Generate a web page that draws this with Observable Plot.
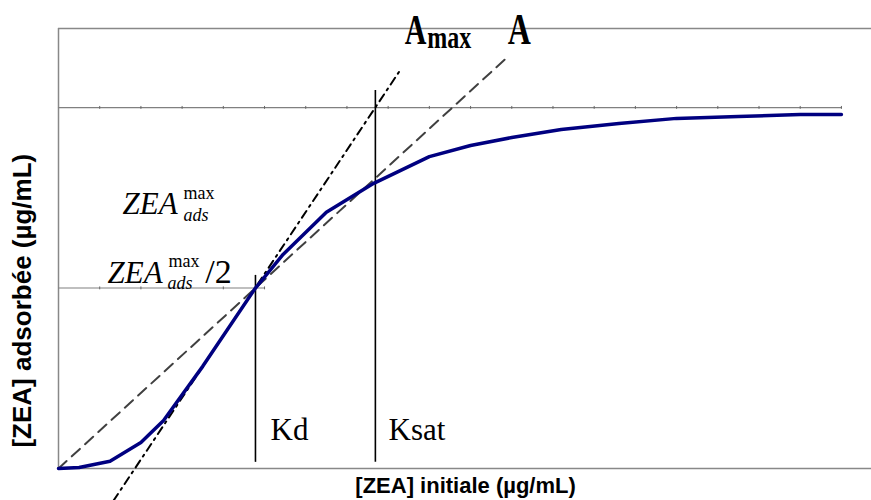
<!DOCTYPE html>
<html>
<head>
<meta charset="utf-8">
<script src="https://cdn.jsdelivr.net/npm/d3@7"></script>
<script src="https://cdn.jsdelivr.net/npm/@observablehq/plot@0.6"></script>
<style>
  html, body { margin: 0; padding: 0; background: #fff; }
  svg { display: block; }
</style>
</head>
<body>
<div id="chart"></div>
<script>
// Adsorption curve: [ZEA] initiale (x) vs [ZEA] adsorbée (y), arbitrary units
const curveX = [0, 0.5, 1.25, 2, 2.55, 3.5, 4.78, 5.45, 6.5, 7.65, 9, 10, 11, 12.2, 13.6, 15, 16.5, 18, 19];
const curveY = [0, 0.003, 0.02, 0.072, 0.133, 0.283, 0.5, 0.593, 0.71, 0.79, 0.864, 0.895, 0.917, 0.939, 0.956, 0.97, 0.975, 0.981, 0.981];

// Plateau (ZEA max ads) and half plateau reference lines (category points)
const maxLineX = [0,1,2,3,4,5,6,7,8,9,10,11,12,13,14,15,16,17,18,19];
const maxValue = 1;
const halfLineX = [0,1,2,3,4,5];
const halfValue = 0.5;

// Characteristic concentrations
const kd = 4.78;
const ksat = 7.69;
const kdTop = 0.535, ksatTop = 1.047, vBottom = 0.017;

// Tangent lines (endpoints)
const lineA_X = [0, 10.85];
const lineA_Y = [0, 1.135];
const lineAmax_X = [1.335, 8.3];
const lineAmax_Y = [-0.089, 1.105];

// Labels
const xLabel = "[ZEA] initiale (µg/mL)";
const yLabel = "[ZEA] adsorbée (µg/mL)";

const xMax = 19.73, yMax = 1.219;

const curve = curveX.map((x, i) => ({x, y: curveY[i]}));
const maxLine = maxLineX.map(x => ({x, y: maxValue}));
const halfLine = halfLineX.map(x => ({x, y: halfValue}));
const lineA = lineA_X.map((x, i) => ({x, y: lineA_Y[i]}));
const lineAmax = lineAmax_X.map((x, i) => ({x, y: lineAmax_Y[i]}));

const serif = "Liberation Serif, Times New Roman, serif";
const sans = "Liberation Sans, Arial, sans-serif";
const T = (txt, x, y, o) => Plot.text([txt], {x: () => x, y: () => y, text: d => d, textAnchor: "start", lineAnchor: "bottom", fontFamily: serif, fill: "black", ...o});

const chart = Plot.plot({
  width: 871,
  height: 500,
  marginLeft: 58,
  marginRight: 0,
  marginTop: 28,
  marginBottom: 32,
  x: {domain: [0, xMax], axis: null},
  y: {domain: [0, yMax], axis: null},
  clip: false,
  style: {background: "white"},
  marks: [
    // frame lines
    Plot.ruleY([yMax], {x1: 0, x2: xMax, stroke: "#888", strokeWidth: 1.5}),
    Plot.ruleY([0], {x1: 0, x2: xMax, stroke: "#888", strokeWidth: 1.5}),
    Plot.ruleX([0], {y1: 0, y2: yMax, stroke: "#888", strokeWidth: 1.5}),
    // plateau and half lines with category ticks
    Plot.line(maxLine, {x: "x", y: "y", stroke: "#808080", strokeWidth: 1.2}),
    Plot.ruleX(maxLine.slice(1), {x: "x", y1: maxValue - 0.005, y2: maxValue + 0.003, stroke: "#666", strokeWidth: 1}),
    Plot.line(halfLine, {x: "x", y: "y", stroke: "#808080", strokeWidth: 1.2}),
    Plot.ruleX(halfLine.slice(1), {x: "x", y1: halfValue - 0.005, y2: halfValue + 0.003, stroke: "#666", strokeWidth: 1}),
    // vertical Kd / Ksat
    Plot.ruleX([kd], {y1: vBottom, y2: kdTop, stroke: "black", strokeWidth: 1.6}),
    Plot.ruleX([ksat], {y1: vBottom, y2: ksatTop, stroke: "black", strokeWidth: 1.6}),
    // tangent lines
    Plot.line(lineA, {x: "x", y: "y", stroke: "#404040", strokeWidth: 2, strokeDasharray: "11,7"}),
    Plot.line(lineAmax, {x: "x", y: "y", stroke: "black", strokeWidth: 2, strokeDasharray: "8,5,2,5"}),
    // curve
    Plot.line(curve, {x: "x", y: "y", stroke: "#000080", strokeWidth: 3.5, strokeLinejoin: "round"}),
    // annotations
    T("A", 8.40, 1.177, {fontSize: 30, fontWeight: "bold", className: "stretchA"}),
    T("max", 8.95, 1.166, {fontSize: 24, fontWeight: "bold", className: "stretchM"}),
    T("A", 10.90, 1.177, {fontSize: 32, fontWeight: "bold", className: "stretchA"}),
    T("Kd", 5.146, 0.0803, {fontSize: 31}),
    T("Ksat", 8.01, 0.0803, {fontSize: 31}),
    T("ZEA", 1.553, 0.7064, {fontSize: 31, fontStyle: "italic"}),
    T("max", 3.034, 0.748, {fontSize: 18}),
    T("ads", 3.034, 0.687, {fontSize: 18, fontStyle: "italic"}),
    T("ZEA", 1.189, 0.515, {fontSize: 31, fontStyle: "italic"}),
    T("max", 2.67, 0.557, {fontSize: 18}),
    T("ads", 2.646, 0.496, {fontSize: 18, fontStyle: "italic"}),
    T("/2", 3.56, 0.515, {fontSize: 34}),
    // axis titles
    Plot.text([xLabel], {x: () => 9.879, y: () => -0.047, text: d => d, textAnchor: "middle", lineAnchor: "middle", fontFamily: sans, fontWeight: "bold", fontSize: 22, fill: "black"}),
    Plot.text([yLabel], {x: () => -0.874, y: () => 0.465, text: d => d, rotate: -90, textAnchor: "middle", lineAnchor: "middle", fontFamily: sans, fontWeight: "bold", fontSize: 26, fill: "black"})
  ]
});

// vertical stretch of the bold "A max" / "A" labels, as in the reference
function stretch(cls, sy) {
  d3.select(chart).selectAll(`.${cls} text`).each(function() {
    const el = this;
    const t = el.getAttribute("transform") || "";
    if (el.hasAttribute("x") || el.hasAttribute("y")) {
      const x = +el.getAttribute("x") || 0, y = +el.getAttribute("y") || 0;
      el.setAttribute("transform", `${t} translate(${x},${y}) scale(1,${sy}) translate(${-x},${-y})`);
    } else {
      el.setAttribute("transform", `${t} scale(1,${sy})`);
    }
  });
}
stretch("stretchA", 1.4);
stretch("stretchM", 1.3);

document.getElementById("chart").appendChild(chart);
</script>
</body>
</html>
